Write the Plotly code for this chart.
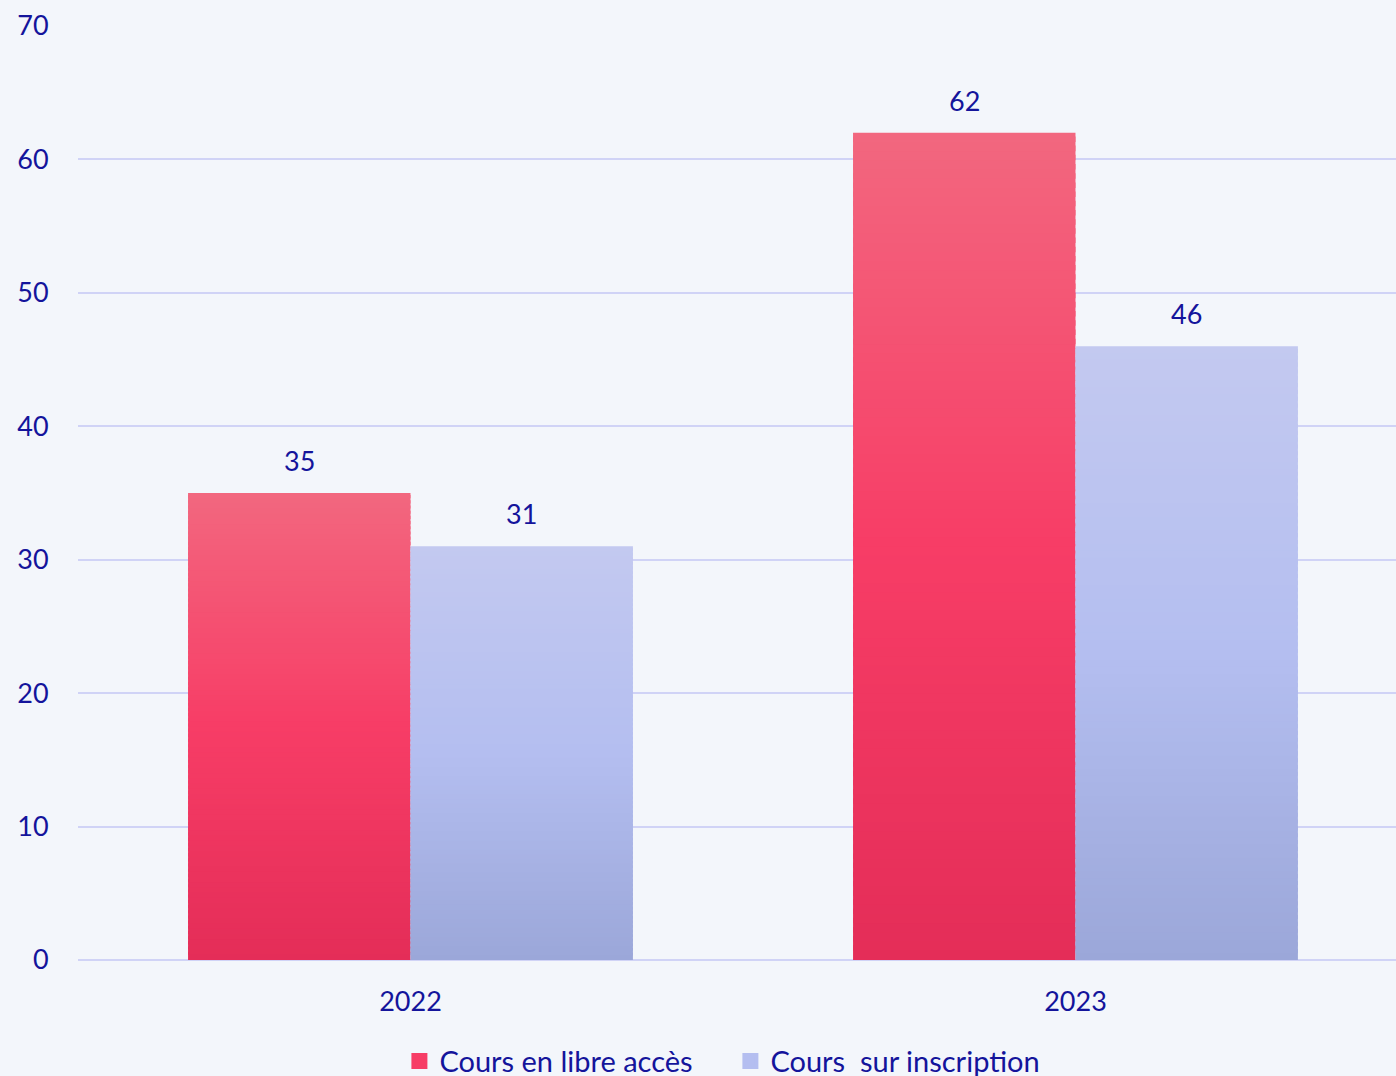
import plotly.graph_objects as go

# ---- data ----
years = ["2022", "2023"]
libre_acces = [35, 62]
sur_inscription = [31, 46]
series_names = ["Cours en libre accès", "Cours  sur inscription"]
y_ticks = [0, 10, 20, 30, 40, 50, 60, 70]

# ---- style ----
TEXT = "#14149B"
BG = "#F3F6FB"
GRID = "#D0D3F6"
FONT = "Lato"
FS = 27
BARGAP = 0.331
N_SEG = 90

# gradient stops: (fraction from bottom, rgb)
RED_STOPS = [(0.0, (228, 45, 88)), (0.5, (247, 61, 102)), (1.0, (242, 103, 127))]
BLUE_STOPS = [(0.0, (155, 167, 217)), (0.5, (180, 190, 240)), (1.0, (195, 201, 240))]


def grad(stops, f):
    for (f0, c0), (f1, c1) in zip(stops[:-1], stops[1:]):
        if f0 <= f <= f1:
            t = (f - f0) / (f1 - f0)
            c = [round(a + (b - a) * t) for a, b in zip(c0, c1)]
            return "rgb(%d,%d,%d)" % tuple(c)
    return "rgb(%d,%d,%d)" % stops[-1][1]


fig = go.Figure()

for name, vals, stops in [(series_names[0], libre_acces, RED_STOPS),
                          (series_names[1], sur_inscription, BLUE_STOPS)]:
    for k in range(N_SEG):
        f = (k + 0.5) / N_SEG
        # segments overlap slightly so no seams show; the top one ends exactly at the value
        h = 1.0 if k == N_SEG - 1 else 1.6
        fig.add_trace(go.Bar(
            x=years,
            y=[v * h / N_SEG for v in vals],
            base=[v * k / N_SEG for v in vals],
            marker=dict(color=grad(stops, f), line=dict(width=0)),
            offsetgroup=name,
            legendgroup=name,
            name=name,
            showlegend=False,
            hoverinfo="skip",
        ))
    # legend entry
    fig.add_trace(go.Bar(
        x=years, y=[None, None],
        marker=dict(color=grad(stops, 0.5), line=dict(width=4, color=grad(stops, 0.5))),
        offsetgroup=name, legendgroup=name, name=name, showlegend=True,
        hoverinfo="skip",
    ))

# value labels
half = (1 - BARGAP) / 4
for i, yr in enumerate(years):
    for off, vals in [(-half, libre_acces), (half, sur_inscription)]:
        fig.add_annotation(
            x=i + off, y=vals[i], xref="x", yref="y",
            text=str(vals[i]), showarrow=False,
            yanchor="bottom", yshift=14,
            font=dict(family=FONT, size=FS, color=TEXT),
        )

fig.update_layout(
    width=1396, height=1076,
    barmode="group", bargap=BARGAP, bargroupgap=0,
    paper_bgcolor=BG, plot_bgcolor=BG,
    margin=dict(l=78, r=0, t=26, b=116, autoexpand=False),
    font=dict(family=FONT, size=FS, color=TEXT),
    showlegend=True,
    legend=dict(
        orientation="h", x=0.495, xanchor="center", y=-0.081, yanchor="top",
        font=dict(family=FONT, size=29, color=TEXT),
        bgcolor="rgba(0,0,0,0)", traceorder="normal",
        entrywidth=286,
    ),
    xaxis=dict(
        type="category", range=[-0.5, 1.482],
        showgrid=False, zeroline=False, showline=False,
        ticks="outside", ticklen=18, tickcolor="rgba(0,0,0,0)",
        tickfont=dict(family=FONT, size=FS, color=TEXT),
    ),
    yaxis=dict(
        range=[0, 70], tickvals=y_ticks,
        showgrid=True, gridcolor=GRID, gridwidth=2,
        zeroline=True, zerolinecolor=GRID, zerolinewidth=2,
        showline=False,
        ticks="outside", ticklen=23, tickcolor="rgba(0,0,0,0)",
        tickfont=dict(family=FONT, size=FS, color=TEXT),
    ),
)

fig.write_html(
    "out.html",
    config={"displayModeBar": False},
    post_script="document.body.style.margin='0';document.body.style.background='%s';" % BG,
)
